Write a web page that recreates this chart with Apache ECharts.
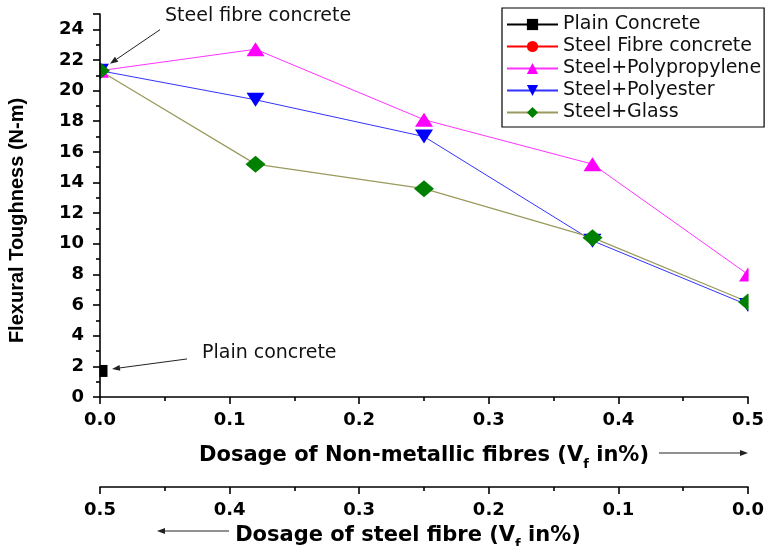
<!DOCTYPE html>
<html><head><meta charset="utf-8">
<script src="https://cdn.jsdelivr.net/npm/echarts@6/dist/echarts.min.js"></script>
<style>html,body{margin:0;padding:0;background:#fff}#c{width:768px;height:546px}</style>
</head><body><div id="c"></div>
<script>
// ---- data ----
const nonMetallicDosage = [0, 0.12, 0.25, 0.38, 0.5];
const plainX = [0];
const plainY = [1.7];
const steelFibreX = [0];
const steelFibreY = [21.3];
const polypropyleneY = [21.3, 22.7, 18.1, 15.2, 8.0];
const polyesterY = [21.3, 19.4, 17.0, 10.2, 6.0];
const glassY = [21.3, 15.2, 13.6, 10.4, 6.2];
const seriesNames = ['Plain Concrete', 'Steel Fibre concrete', 'Steel+Polypropylene', 'Steel+Polyester', 'Steel+Glass'];
const annotations = ['Steel fibre concrete', 'Plain concrete'];

const FONT = '"DejaVu Sans", sans-serif';
const FONT_Y = 'Arial, "Liberation Sans", sans-serif';
const zip = (xs, ys) => xs.map((x, i) => [x, ys[i]]);

const chart = echarts.init(document.getElementById('c'), null, {renderer: 'canvas'});

const subRich = {
  sub: {fontSize: 13, fontWeight: 'bold', fontFamily: FONT, color: '#000', verticalAlign: 'bottom', lineHeight: 14, padding: [0, 0, -3, 0]}
};

const xAxisCommon = {
  type: 'value', min: 0, max: 0.5, interval: 0.1,
  axisLine: {show: true, onZero: false, lineStyle: {color: '#000', width: 1.6}},
  axisTick: {show: true, inside: false, length: 7, lineStyle: {color: '#000', width: 1.6}},
  minorTick: {show: true, splitNumber: 2, length: 4, lineStyle: {color: '#000', width: 1.6}},
  splitLine: {show: false},
  axisLabel: {color: '#000', fontSize: 18, fontWeight: 'bold', fontFamily: FONT, margin: 14,
    formatter: v => v.toFixed(1)},
  nameLocation: 'middle',
  nameTextStyle: {color: '#000', fontSize: 21, fontWeight: 'bold', fontFamily: FONT, lineHeight: 24, rich: subRich},
  z: 10
};

chart.setOption({
  animation: false,
  backgroundColor: '#fff',
  grid: {left: 100, right: 20, top: 14, bottom: 149, containLabel: false, outerBoundsMode: 'none'},
  legend: {
    orient: 'vertical', left: 502, top: 8,
    data: seriesNames,
    itemWidth: 51, itemHeight: 14, itemGap: 3,
    padding: [7, 3, 5, 4],
    borderColor: '#000', borderWidth: 1.2,
    backgroundColor: '#fff',
    textStyle: {color: '#111', fontSize: 19, lineHeight: 17, fontFamily: FONT},
    z: 20
  },
  xAxis: [
    Object.assign({}, xAxisCommon, {
      position: 'bottom', offset: 0,
      name: 'Dosage of Non-metallic fibres (V{sub|f} in%)', nameGap: 47
    }),
    Object.assign({}, xAxisCommon, {
      position: 'bottom', offset: 90, inverse: true,
      name: 'Dosage of steel fibre (V{sub|f} in%)', nameGap: 28,
      nameTextStyle: Object.assign({}, xAxisCommon.nameTextStyle, {padding: [0, 32, 0, 0]})
    })
  ],
  yAxis: {
    type: 'value', min: 0, max: 25, interval: 2,
    axisLine: {show: true, onZero: false, lineStyle: {color: '#000', width: 1.6}},
    axisTick: {show: true, inside: false, length: 7, lineStyle: {color: '#000', width: 1.6}},
    minorTick: {show: true, splitNumber: 2, length: 4, lineStyle: {color: '#000', width: 1.6}},
    splitLine: {show: false},
    axisLabel: {color: '#000', fontSize: 18, fontWeight: 'bold', fontFamily: FONT, margin: 16, showMaxLabel: false,
      formatter: v => (v > 24 ? '' : String(v))},
    name: 'Flexural Toughness (N-m)', nameLocation: 'middle', nameGap: 73,
    nameTextStyle: {color: '#000', fontSize: 20, fontWeight: 'bold', fontFamily: FONT_Y, padding: [0, 30, 0, 0]},
    z: 10
  },
  series: [
    {name: seriesNames[0], type: 'line', xAxisIndex: 0, data: zip(plainX, plainY),
      symbol: 'rect', symbolSize: [15, 12], color: '#000', lineStyle: {color: '#000', width: 2}, itemStyle: {color: '#000'}},
    {name: seriesNames[1], type: 'line', xAxisIndex: 0, data: zip(steelFibreX, steelFibreY),
      symbol: 'circle', symbolSize: 14, color: '#ff0000', lineStyle: {color: '#ff0000', width: 1}, itemStyle: {color: '#ff0000'}},
    {name: seriesNames[2], type: 'line', xAxisIndex: 0, data: zip(nonMetallicDosage, polypropyleneY),
      symbol: 'triangle', symbolSize: [18, 14], color: '#ff00ff', lineStyle: {color: '#ff33ff', width: 1}, itemStyle: {color: '#ff00ff'}},
    {name: seriesNames[3], type: 'line', xAxisIndex: 0, data: zip(nonMetallicDosage, polyesterY),
      symbol: 'triangle', symbolRotate: 180, symbolSize: [18, 14], color: '#0000ff', lineStyle: {color: '#3333ff', width: 1}, itemStyle: {color: '#0000ff'}},
    {name: seriesNames[4], type: 'line', xAxisIndex: 0, data: zip(nonMetallicDosage, glassY),
      symbol: 'diamond', symbolSize: [20, 17], color: '#008000', lineStyle: {color: '#9a9a5e', width: 1.2}, itemStyle: {color: '#008000'}}
  ]
});

// ---- annotations, derived from the grid's own scale ----
function px(x, y) { return chart.convertToPixel({gridIndex: 0}, [x, y]); }
function arrow(x1, y1, x2, y2, head) {
  const a = Math.atan2(y2 - y1, x2 - x1), L = head || 8, W = 3;
  const bx = x2 - L * Math.cos(a), by = y2 - L * Math.sin(a);
  const nx = -Math.sin(a) * W, ny = Math.cos(a) * W;
  return [
    {type: 'line', shape: {x1: x1, y1: y1, x2: bx, y2: by}, style: {stroke: '#222', lineWidth: 1}, z: 30},
    {type: 'polygon', shape: {points: [[x2, y2], [bx + nx, by + ny], [bx - nx, by - ny]]}, style: {fill: '#222'}, z: 30}
  ];
}
const origin = px(0, 0);
const xEnd = px(0.5, 0);
const yTopPx = px(0, 25);
const sfc = px(steelFibreX[0], steelFibreY[0]);
const pc = px(plainX[0], plainY[0]);
const g = [];
// white masks so the markers on the frame edges are half-hidden, as in the original
g.push({type: 'rect', shape: {x: origin[0] - 30, y: yTopPx[1], width: 29.4, height: origin[1] - yTopPx[1]}, style: {fill: '#fff'}, z: 5});
g.push({type: 'rect', shape: {x: xEnd[0] + 0.6, y: yTopPx[1] + 118, width: 30, height: origin[1] - yTopPx[1] - 118}, style: {fill: '#fff'}, z: 5});
g.push({type: 'text', x: sfc[0] + 65, y: sfc[1] - 55, style: {text: annotations[0], fill: '#111', font: '19px ' + FONT, textVerticalAlign: 'middle'}, z: 30});
g.push(...arrow(sfc[0] + 60, sfc[1] - 41, sfc[0] + 10, sfc[1] - 7));
g.push({type: 'text', x: pc[0] + 102, y: pc[1] - 18, style: {text: annotations[1], fill: '#111', font: '19px ' + FONT, textVerticalAlign: 'middle'}, z: 30});
g.push(...arrow(pc[0] + 87, pc[1] - 12, pc[0] + 12, pc[1] - 2));
// axis-name direction arrows
g.push(...arrow(xEnd[0] - 89, origin[1] + 56, xEnd[0], origin[1] + 56, 8));
g.push(...arrow(origin[0] + 129, origin[1] + 134, origin[0] + 57, origin[1] + 134, 8));
chart.setOption({graphic: g});
</script>
</body></html>
